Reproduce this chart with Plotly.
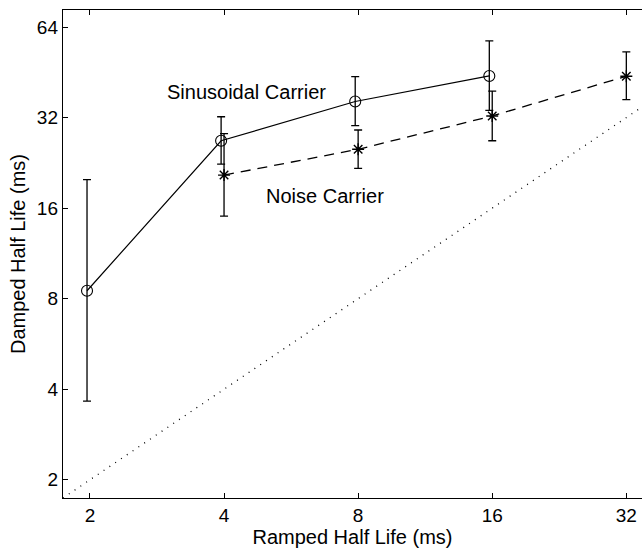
import math
import plotly.graph_objects as go

# Ramped half life (ms) for each condition
sin_ramped = [2, 4, 8, 16]
noise_ramped = [4, 8, 16, 32]

# Damped half life matched to each ramped stimulus (ms), with error limits
sin_damped = [8.5, 26.8, 36.2, 44.0]
sin_upper = [19.9, 32.2, 43.8, 57.6]
sin_lower = [3.65, 22.4, 30.1, 33.8]

noise_damped = [20.6, 25.1, 32.4, 43.9]
noise_upper = [28.3, 29.1, 39.2, 52.9]
noise_lower = [15.05, 21.7, 26.8, 36.7]

tick_vals = [2, 4, 8, 16, 32, 64]
tick_text = ["2", "4", "8", "16", "32", "64"]

# axis limits (ms)
x_lim = [1.74, 34.7]
y_lim = [1.74, 72.9]

# small horizontal dodge so overlapping error bars stay distinct
sin_dodge = 0.985

FONT = "Liberation Sans, Arial, Helvetica, sans-serif"

fig = go.Figure()

# identity line (damped = ramped)
fig.add_trace(go.Scatter(
    x=x_lim, y=x_lim, mode="lines",
    line=dict(color="black", width=1.3, dash="1px,6px"),
    hoverinfo="skip", showlegend=False,
))

fig.add_trace(go.Scatter(
    x=[v * sin_dodge for v in sin_ramped], y=sin_damped,
    mode="lines+markers",
    line=dict(color="black", width=1.2),
    marker=dict(symbol="circle-open", size=11, color="black", line=dict(width=1.1)),
    error_y=dict(type="data", symmetric=False,
                 array=[u - m for u, m in zip(sin_upper, sin_damped)],
                 arrayminus=[m - l for m, l in zip(sin_damped, sin_lower)],
                 color="black", thickness=1.3, width=4),
    name="Sinusoidal Carrier", showlegend=False,
))

fig.add_trace(go.Scatter(
    x=noise_ramped, y=noise_damped,
    mode="lines+markers",
    line=dict(color="black", width=1.3, dash="10px,7px"),
    marker=dict(symbol="asterisk-open", size=10, color="black", line=dict(width=1.4, color="black")),
    error_y=dict(type="data", symmetric=False,
                 array=[u - m for u, m in zip(noise_upper, noise_damped)],
                 arrayminus=[m - l for m, l in zip(noise_damped, noise_lower)],
                 color="black", thickness=1.3, width=4),
    name="Noise Carrier", showlegend=False,
))

fig.add_annotation(x=math.log10(2.95), y=math.log10(39.0), text="Sinusoidal Carrier",
                   showarrow=False, xanchor="left", yanchor="middle",
                   font=dict(family=FONT, size=20, color="black"))
fig.add_annotation(x=math.log10(4.92), y=math.log10(17.55), text="Noise Carrier",
                   showarrow=False, xanchor="left", yanchor="middle",
                   font=dict(family=FONT, size=20, color="black"))

axis_common = dict(
    type="log", tickvals=tick_vals, ticktext=tick_text,
    ticks="inside", ticklen=5, tickwidth=1.2, tickcolor="black",
    showline=True, linecolor="black", linewidth=1.4,
    showgrid=False, zeroline=False,
    tickfont=dict(family=FONT, size=19, color="black"),
)

fig.update_xaxes(**axis_common, range=[math.log10(v) for v in x_lim], mirror="ticks",
                 title=dict(text="Ramped Half Life (ms)", standoff=3,
                            font=dict(family=FONT, size=20, color="black")))
fig.update_yaxes(**axis_common, range=[math.log10(v) for v in y_lim],
                 title=dict(text="Damped Half Life (ms)", standoff=5,
                            font=dict(family=FONT, size=20, color="black")))

fig.update_layout(
    width=642, height=550,
    margin=dict(l=63, r=0, t=10, b=52),
    paper_bgcolor="white", plot_bgcolor="white",
)

fig.write_html("out.html")
